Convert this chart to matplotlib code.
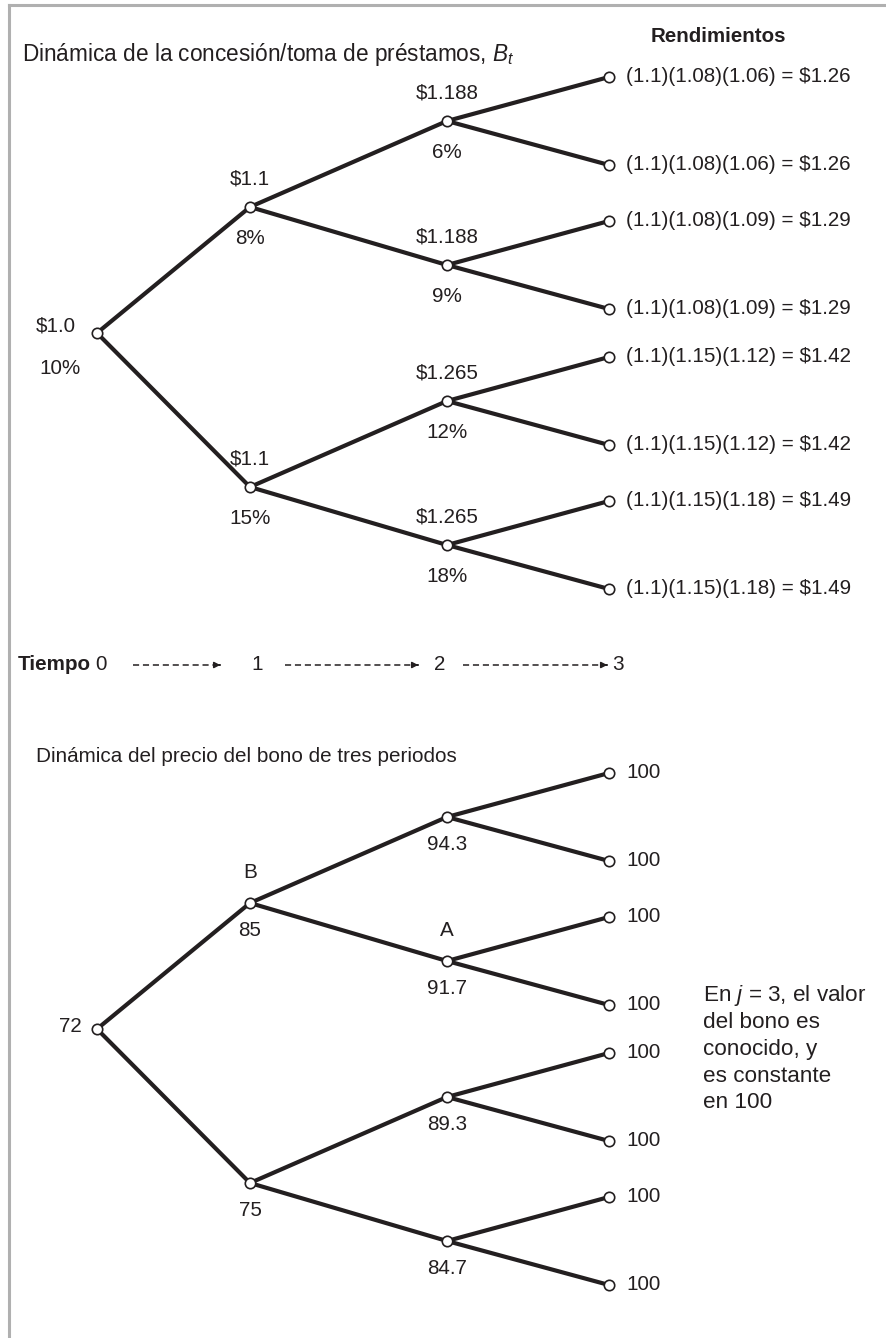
import matplotlib.pyplot as plt
from matplotlib.lines import Line2D

plt.rcParams['font.family'] = ['Liberation Sans', 'DejaVu Sans']
plt.rcParams['mathtext.fontset'] = 'custom'
plt.rcParams['mathtext.rm'] = 'Liberation Sans'
plt.rcParams['mathtext.it'] = 'Liberation Sans:italic'

#-data
borrow_vals = [['$1.0'], ['$1.1', '$1.1'], ['$1.188', '$1.188', '$1.265', '$1.265']]
rates = [['10%'], ['8%', '15%'], ['6%', '9%', '12%', '18%']]
payoffs = ['(1.1)(1.08)(1.06) = $1.26', '(1.1)(1.08)(1.06) = $1.26',
           '(1.1)(1.08)(1.09) = $1.29', '(1.1)(1.08)(1.09) = $1.29',
           '(1.1)(1.15)(1.12) = $1.42', '(1.1)(1.15)(1.12) = $1.42',
           '(1.1)(1.15)(1.18) = $1.49', '(1.1)(1.15)(1.18) = $1.49']
bond_prices = [['72'], ['85', '75'], ['94.3', '91.7', '89.3', '84.7']]
face_values = ['100', '100', '100', '100', '100', '100', '100', '100']
node_letters = {(1, 0): 'B', (2, 1): 'A'}
time_steps = ['0', '1', '2', '3']
note_lines = ['En $j$ = 3, el valor', 'del bono es', 'conocido, y', 'es constante', 'en 100']

#-layout (pixel units, y down)
x_steps = [97, 250, 447, 609]
spread = [(-126, 154), (-86, 58), (-44, 44)]
ink = '#231f20'
fs = 14.9


def tree_levels(y0):
    levels = [[y0]]
    for up, down in spread:
        levels.append([y + d for y in levels[-1] for d in (up, down)])
    return levels


def draw_tree(ax, levels):
    for t in range(3):
        for i, y in enumerate(levels[t]):
            for k in (0, 1):
                ax.plot([x_steps[t], x_steps[t + 1]], [y, levels[t + 1][2 * i + k]],
                        color=ink, lw=3, solid_capstyle='round', zorder=2)
    for t, ys in enumerate(levels):
        ax.plot([x_steps[t]] * len(ys), ys, 'o', ms=7.5, mfc='white', mec=ink,
                mew=1.2, zorder=3)


fig = plt.figure(figsize=(8.86, 13.38), dpi=100)
ax = fig.add_axes([0, 0, 1, 1])
ax.set_xlim(0, 886)
ax.set_ylim(1338, 0)
ax.axis('off')

#frame
ax.add_line(Line2D([9, 886], [5, 5], color='#b0b0b0', lw=2.2))
ax.add_line(Line2D([9, 9], [5, 1338], color='#b0b0b0', lw=2.2))

#-top tree: borrowing / lending
ax.text(22, 55, 'Dinámica de la concesión/toma de préstamos, $B_t$', fontsize=16.3,
        ha='left', va='center', color=ink)
ax.text(718, 37, 'Rendimientos', fontsize=14.8, fontweight='bold', ha='center',
        va='center', color=ink)
top = tree_levels(333)
draw_tree(ax, top)
ax.text(56, top[0][0] - 7, borrow_vals[0][0], fontsize=fs, ha='center', va='center', color=ink)
ax.text(60, top[0][0] + 36, rates[0][0], fontsize=fs, ha='center', va='center', color=ink)
for t in (1, 2):
    for i, y in enumerate(top[t]):
        ax.text(x_steps[t], y - 28, borrow_vals[t][i], fontsize=fs, ha='center',
                va='center', color=ink)
        ax.text(x_steps[t], y + 31, rates[t][i], fontsize=fs, ha='center',
                va='center', color=ink)
for i, y in enumerate(top[3]):
    ax.text(x_steps[3] + 17, y, payoffs[i], fontsize=fs, ha='left', va='center', color=ink)

#-time axis
ax.text(18, 665, 'Tiempo', fontsize=fs, fontweight='bold', ha='left', va='center', color=ink)
time_x = [101, 257, 440, 618]
arrows = [(133, 223), (285, 421), (463, 610)]
for s, x in zip(time_steps, time_x):
    ax.text(x, 665, s, fontsize=fs, ha='center', va='center', color=ink)
for x0, x1 in arrows:
    ax.plot([x0, x1 - 4], [665, 665], color=ink, lw=1.1, ls=(0, (4, 2.5)))
    ax.annotate('', xy=(x1, 665), xytext=(x1 - 6, 665),
                arrowprops=dict(arrowstyle='-|>,head_length=0.35,head_width=0.18',
                                color=ink, lw=1.1))

#-bottom tree: bond price
ax.text(36, 757, 'Dinámica del precio del bono de tres periodos', fontsize=fs,
        ha='left', va='center', color=ink)
bot = tree_levels(1029)
draw_tree(ax, bot)
ax.text(x_steps[0] - 27, bot[0][0] - 2, bond_prices[0][0], fontsize=fs, ha='center',
        va='center', color=ink)
for t in (1, 2):
    for i, y in enumerate(bot[t]):
        ax.text(x_steps[t], y + 28, bond_prices[t][i], fontsize=fs, ha='center',
                va='center', color=ink)
        if (t, i) in node_letters:
            ax.text(x_steps[t], y - 30, node_letters[(t, i)], fontsize=fs, ha='center',
                    va='center', color=ink)
for i, y in enumerate(bot[3]):
    ax.text(x_steps[3] + 17, y, face_values[i], fontsize=fs, ha='left', va='center', color=ink)

for k, line in enumerate(note_lines):
    ax.text(703, 995 + 27 * k, line, fontsize=16.2, ha='left', va='center', color=ink)

fig.savefig('out.png', dpi=100)
